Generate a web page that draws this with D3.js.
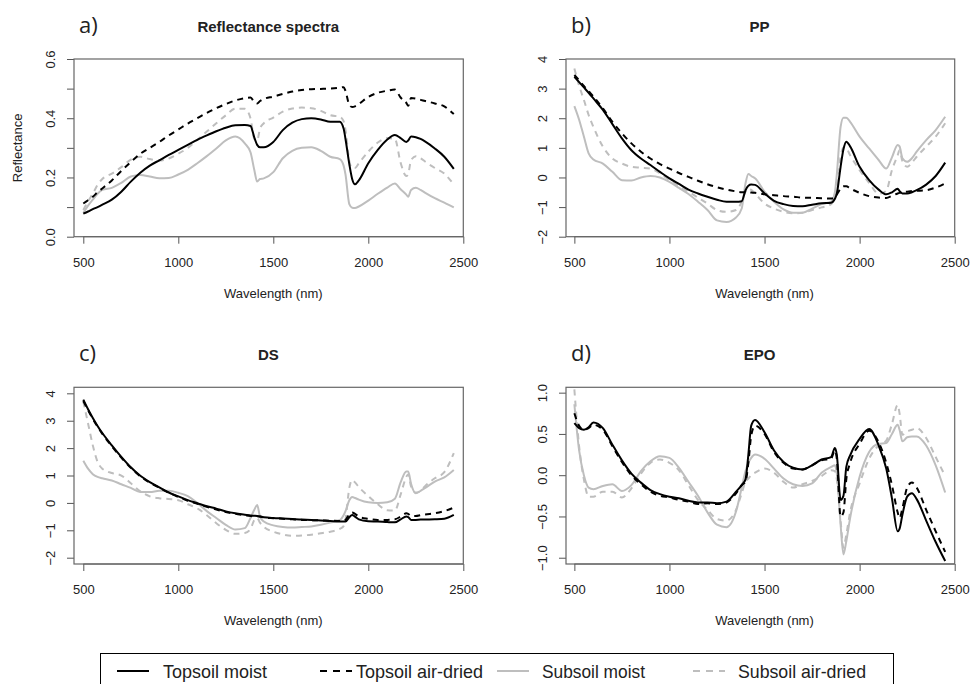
<!DOCTYPE html>
<html>
<head>
<meta charset="utf-8">
<script src="https://cdn.jsdelivr.net/npm/d3@7"></script>
<style>
body { margin: 0; background: #fff; }
svg text { font-family: Arial, "Liberation Sans", sans-serif; fill: #222; }
</style>
</head>
<body>
<svg id="chart" width="971" height="684"></svg>
<script>
// spectra data (same wavelength grid for every curve)
var wavelengths = [500,525,550,575,600, 650,700,750,800,850, 900,950,1000,1050,1100,
    1150,1200,1250,1300,1350, 1380,1400,1415,1430,1450, 1500,1550,1600,1650,1700,
    1750,1800,1850,1870,1880, 1900,1915,1930,1950,2000, 2050,2100,2140,2170,2200,
    2210,2225,2250,2275,2300, 2350,2400,2450];

// a) reflectance
var reflTopMoist = [.078,.085,.093,.100,.108, .125,.152,.186,.216,.240, .258,.276,.293,.310,.327,
    .342,.356,.368,.376,.377, .374,.335,.310,.302,.302, .320,.360,.385,.397,.400,
    .396,.388,.388,.365,.330, .245,.195,.177,.190,.248, .293,.328,.343,.333,.320,
    .325,.338,.336,.330,.321, .298,.270,.229];
var reflTopDry = [.112,.123,.135,.150,.163, .190,.222,.252,.280,.300, .320,.342,.362,.382,.400,
    .418,.434,.448,.460,.468, .470,.455,.450,.458,.465, .473,.482,.490,.495,.498,
    .499,.500,.503,.505,.492, .445,.438,.440,.448,.472, .486,.493,.497,.470,.452,
    .442,.468,.466,.462,.458, .450,.440,.414];
var reflSubMoist = [.080,.105,.125,.145,.158, .165,.182,.203,.208,.203, .197,.198,.210,.226,.248,
    .272,.298,.325,.338,.315, .285,.225,.186,.195,.197, .218,.265,.290,.300,.302,
    .290,.270,.262,.240,.210, .110,.098,.097,.102,.122, .145,.166,.180,.160,.142,
    .135,.158,.165,.158,.148, .130,.115,.099];
var reflSubDry = [.090,.120,.145,.175,.195, .213,.235,.260,.270,.262, .257,.264,.280,.300,.327,
    .355,.383,.410,.432,.432, .400,.330,.325,.365,.383, .402,.422,.433,.436,.434,
    .425,.410,.405,.390,.360, .255,.232,.232,.248,.287, .318,.333,.330,.250,.205,
    .212,.258,.272,.265,.253, .232,.213,.176];

// b) PP
var ppTopMoist = [3.40,3.22,3.04,2.86,2.67, 2.28,1.80,1.32,0.92,0.64, 0.42,0.19,-0.03,-0.22,-0.41,
    -0.54,-0.65,-0.75,-0.82,-0.82, -0.80,-0.43,-0.28,-0.24,-0.25, -0.54,-0.79,-0.90,-0.96,-0.97,
    -0.92,-0.87,-0.85,-0.72,-0.55, 0.36,0.95,1.21,1.05,0.36, -0.09,-0.41,-0.57,-0.50,-0.38,
    -0.46,-0.54,-0.54,-0.50,-0.43, -0.24,0.05,0.50];
var ppTopDry = [3.46,3.28,3.09,2.91,2.73, 2.33,1.88,1.49,1.15,0.87, 0.64,0.45,0.30,0.15,0.02,
    -0.11,-0.23,-0.33,-0.41,-0.47, -0.50,-0.50,-0.50,-0.51,-0.52, -0.57,-0.60,-0.63,-0.65,-0.68,
    -0.69,-0.70,-0.71,-0.68,-0.58, -0.38,-0.30,-0.30,-0.37,-0.52, -0.63,-0.68,-0.69,-0.62,-0.54,
    -0.52,-0.50,-0.48,-0.46,-0.45, -0.43,-0.34,-0.20];
var ppSubMoist = [2.41,1.95,1.38,0.81,0.61, 0.47,0.19,-0.09,-0.10,0.00, 0.05,0.00,-0.15,-0.35,-0.56,
    -0.82,-1.10,-1.45,-1.50,-1.35, -1.05,-0.20,0.12,0.05,-0.03, -0.48,-0.82,-1.08,-1.19,-1.19,
    -1.05,-0.90,-0.82,-0.50,0.10, 1.71,2.02,2.02,1.88,1.38, 0.98,0.59,0.30,0.68,1.10,
    1.05,0.65,0.53,0.65,0.87, 1.26,1.60,2.05];
var ppSubDry = [3.68,3.10,2.62,2.11,1.71, 1.04,0.64,0.47,0.36,0.33, 0.30,0.14,-0.09,-0.28,-0.48,
    -0.68,-0.88,-1.10,-1.16,-1.10, -0.82,-0.48,-0.37,-0.42,-0.54, -0.88,-1.05,-1.16,-1.21,-1.19,
    -1.10,-1.01,-0.90,-0.60,-0.31, 0.70,1.00,0.98,0.75,0.25, -0.18,-0.55,-0.45,0.25,0.75,
    0.92,0.55,0.36,0.50,0.70, 1.04,1.38,1.83];

// c) DS
var dsTopMoist = [3.77,3.42,3.10,2.81,2.55, 2.10,1.68,1.30,0.99,0.76, 0.57,0.38,0.24,0.10,-0.01,
    -0.12,-0.21,-0.31,-0.38,-0.43, -0.46,-0.47,-0.48,-0.50,-0.52, -0.55,-0.57,-0.59,-0.61,-0.62,
    -0.64,-0.66,-0.68,-0.68,-0.68, -0.52,-0.44,-0.50,-0.60,-0.67, -0.68,-0.70,-0.71,-0.60,-0.50,
    -0.52,-0.62,-0.62,-0.61,-0.61, -0.60,-0.58,-0.44];
var dsTopDry = [3.72,3.38,3.07,2.78,2.52, 2.07,1.65,1.28,0.97,0.74, 0.55,0.37,0.22,0.08,-0.03,
    -0.14,-0.24,-0.33,-0.40,-0.45, -0.48,-0.49,-0.49,-0.50,-0.53, -0.56,-0.58,-0.60,-0.62,-0.63,
    -0.64,-0.65,-0.66,-0.66,-0.62, -0.42,-0.35,-0.40,-0.50,-0.58, -0.62,-0.62,-0.60,-0.50,-0.38,
    -0.40,-0.48,-0.48,-0.45,-0.42, -0.38,-0.30,-0.17];
var dsSubMoist = [1.54,1.25,1.05,0.95,0.90, 0.82,0.68,0.55,0.40,0.40, 0.44,0.44,0.37,0.25,0.00,
    -0.30,-0.55,-0.80,-0.97,-0.92, -0.55,-0.25,-0.08,-0.50,-0.68, -0.82,-0.88,-0.90,-0.88,-0.86,
    -0.80,-0.72,-0.63,-0.45,-0.30, 0.10,0.22,0.18,0.12,0.02, 0.00,0.02,0.15,0.75,1.15,
    1.15,0.70,0.35,0.44,0.55, 0.78,0.93,1.20];
var dsSubDry = [3.70,2.90,2.10,1.50,1.25, 1.09,1.00,0.72,0.42,0.24, 0.17,0.14,0.10,-0.05,-0.20,
    -0.45,-0.74,-0.98,-1.13,-1.10, -0.95,-0.62,-0.55,-0.72,-0.87, -1.05,-1.15,-1.20,-1.19,-1.16,
    -1.11,-1.05,-0.95,-0.85,-0.60, 0.55,0.84,0.75,0.58,0.25, -0.05,-0.27,-0.28,0.30,0.95,
    1.05,0.60,0.38,0.44,0.62, 0.90,1.12,1.82];

// d) EPO
var epoTopMoist = [0.63,0.57,0.55,0.58,0.64, 0.57,0.37,0.18,0.02,-0.09, -0.18,-0.23,-0.26,-0.28,-0.31,
    -0.33,-0.33,-0.34,-0.32,-0.20, -0.12,-0.05,0.25,0.60,0.67, 0.52,0.30,0.16,0.09,0.07,
    0.12,0.19,0.22,0.33,0.25, -0.30,-0.25,0.10,0.24,0.44, 0.56,0.36,0.08,-0.28,-0.68,
    -0.65,-0.48,-0.26,-0.22,-0.29, -0.55,-0.81,-1.04];
var epoTopDry = [0.75,0.60,0.55,0.57,0.61, 0.55,0.35,0.16,0.00,-0.11, -0.20,-0.25,-0.27,-0.30,-0.32,
    -0.35,-0.34,-0.35,-0.33,-0.22, -0.12,-0.08,0.15,0.48,0.60, 0.50,0.28,0.15,0.08,0.07,
    0.12,0.18,0.20,0.30,0.20, -0.50,-0.45,-0.05,0.15,0.38, 0.54,0.40,0.15,-0.12,-0.45,
    -0.52,-0.40,-0.15,-0.09,-0.15, -0.42,-0.68,-0.93];
var epoSubMoist = [0.86,0.30,0.00,-0.15,-0.17, -0.13,-0.11,-0.19,-0.12,0.05, 0.17,0.23,0.21,0.09,-0.08,
    -0.25,-0.45,-0.60,-0.63,-0.44, -0.15,0.05,0.15,0.21,0.25, 0.20,0.08,-0.04,-0.11,-0.13,
    -0.10,0.03,0.10,0.12,0.02, -0.60,-0.96,-0.80,-0.52,-0.02, 0.28,0.38,0.39,0.50,0.61,
    0.55,0.41,0.46,0.47,0.47, 0.36,0.12,-0.21];
var epoSubDry = [1.04,0.35,-0.05,-0.26,-0.26, -0.20,-0.20,-0.27,-0.16,0.02, 0.15,0.19,0.15,0.06,-0.12,
    -0.30,-0.42,-0.53,-0.55,-0.42, -0.22,-0.08,-0.04,0.00,0.03, 0.08,0.03,-0.08,-0.15,-0.11,
    -0.07,-0.01,0.06,0.05,-0.05, -0.55,-0.88,-0.72,-0.45,-0.10, 0.20,0.36,0.42,0.62,0.85,
    0.75,0.49,0.53,0.55,0.57, 0.45,0.22,-0.01];

var seriesNames = ["Topsoil moist", "Topsoil air-dried", "Subsoil moist", "Subsoil air-dried"];
var xTicks = [500, 1000, 1500, 2000, 2500];

// look of each series, same order as seriesNames
var styles = [
    {color: "#000", dash: null},
    {color: "#000", dash: "6,5"},
    {color: "#bebebe", dash: null},
    {color: "#bebebe", dash: "6,5"}
];

var svg = d3.select("#chart");
svg.append("rect").attr("width", 971).attr("height", 684).attr("fill", "#fff");

var panels = [
    {tag: "a)", title: "Reflectance spectra", left: 74, right: 463.3, top: 59, bottom: 236.7,
        xd: [451, 2500], yd: [0, 0.6], yticks: [0, .1, .2, .3, .4, .5, .6],
        ylabels: [0, .2, .4, .6], fmt: d3.format(".1f"), ylab: "Reflectance",
        curves: [reflTopMoist, reflTopDry, reflSubMoist, reflSubDry]},
    {tag: "b)", title: "PP", left: 566, right: 954.7, top: 59, bottom: 236.7,
        xd: [456, 2500], yd: [-2, 4], yticks: [-2, -1, 0, 1, 2, 3, 4],
        ylabels: [-2, -1, 0, 1, 2, 3, 4], fmt: d3.format("d"), ylab: "",
        curves: [ppTopMoist, ppTopDry, ppSubMoist, ppSubDry]},
    {tag: "c)", title: "DS", left: 74, right: 463.3, top: 387.3, bottom: 564,
        xd: [451, 2500], yd: [-2.23, 4.22], yticks: [-2, -1, 0, 1, 2, 3, 4],
        ylabels: [-2, -1, 0, 1, 2, 3, 4], fmt: d3.format("d"), ylab: "",
        curves: [dsTopMoist, dsTopDry, dsSubMoist, dsSubDry]},
    {tag: "d)", title: "EPO", left: 566, right: 954.7, top: 387.3, bottom: 564,
        xd: [456, 2500], yd: [-1.076, 1.065], yticks: [-1, -0.5, 0, 0.5, 1],
        ylabels: [-1, -0.5, 0, 0.5, 1], fmt: d3.format(".1f"), ylab: "",
        curves: [epoTopMoist, epoTopDry, epoSubMoist, epoSubDry]}
];

function drawPanel(p, i) {
    var x = d3.scaleLinear().domain(p.xd).range([p.left, p.right]);
    var y = d3.scaleLinear().domain(p.yd).range([p.bottom, p.top]);
    var g = svg.append("g");

    // clip so nothing pokes out of the box
    g.append("clipPath").attr("id", "clip" + i)
        .append("rect").attr("x", p.left).attr("y", p.top)
        .attr("width", p.right - p.left).attr("height", p.bottom - p.top);

    var line = d3.line()
        .x(function (d) { return x(d[0]); })
        .y(function (d) { return y(d[1]); })
        .curve(d3.curveMonotoneX);

    // subsoil (grey) first so the black ones sit on top
    [2, 3, 0, 1].forEach(function (k) {
        var pts = wavelengths.map(function (w, j) { return [w, p.curves[k][j]]; });
        g.append("path")
            .attr("d", line(pts))
            .attr("clip-path", "url(#clip" + i + ")")
            .attr("fill", "none")
            .attr("stroke", styles[k].color)
            .attr("stroke-width", 2)
            .attr("stroke-dasharray", styles[k].dash);
    });

    // x axis
    var xa = g.append("g").attr("transform", "translate(0," + p.bottom + ")")
        .call(d3.axisBottom(x).tickValues(xTicks).tickSize(7).tickSizeOuter(0).tickFormat(d3.format("d")));
    xa.select(".domain").remove();
    xa.append("line").attr("x1", x(500)).attr("x2", x(2500)).attr("stroke", "#555");
    xa.selectAll(".tick line").attr("stroke", "#555");
    xa.selectAll(".tick text").attr("y", 30).attr("dy", 0)
        .style("font-size", "13px").attr("fill", "#222");

    // y axis, labels turned sideways like base R
    var ya = g.append("g").attr("transform", "translate(" + p.left + ",0)")
        .call(d3.axisLeft(y).tickValues(p.yticks).tickSize(7).tickSizeOuter(0).tickFormat(p.fmt));
    ya.select(".domain").remove();
    ya.selectAll(".tick line").attr("stroke", "#555");
    ya.selectAll(".tick text")
        .text(function (d) {
            var show = p.ylabels.some(function (v) { return Math.abs(v - d) < 1e-9; });
            return show ? p.fmt(d) : "";
        })
        .attr("transform", "rotate(-90)")
        .attr("x", 0).attr("y", -19).attr("dy", 0)
        .attr("text-anchor", "middle")
        .style("font-size", "13px").attr("fill", "#222");

    // box
    g.append("rect").attr("x", p.left).attr("y", p.top)
        .attr("width", p.right - p.left).attr("height", p.bottom - p.top)
        .attr("fill", "none").attr("stroke", "#666").attr("stroke-width", 1.2);

    var mid = (x(500) + x(2500)) / 2;
    g.append("text").attr("x", mid - 5).attr("y", p.top - 27)
        .attr("text-anchor", "middle").style("font-size", "15px").style("font-weight", "bold")
        .attr("fill", "#000").text(p.title);
    g.append("text").attr("x", p.left + 5).attr("y", p.top - 26)
        .style("font-family", "'Open Sans', 'Noto Sans', sans-serif").style("font-size", "22px")
        .text(p.tag);
    g.append("text").attr("x", mid).attr("y", p.bottom + 61)
        .attr("text-anchor", "middle").style("font-size", "13px").text("Wavelength (nm)");
    if (p.ylab) {
        g.append("text").attr("transform", "translate(22," + ((p.top + p.bottom) / 2) + ") rotate(-90)")
            .attr("text-anchor", "middle").style("font-size", "13px").text(p.ylab);
    }
}

panels.forEach(drawPanel);

// legend along the bottom, runs off the page like the original
var legend = svg.append("g");
legend.append("rect").attr("x", 100.5).attr("y", 653.5).attr("width", 793).attr("height", 45)
    .attr("fill", "#fff").attr("stroke", "#000").attr("stroke-width", 1);
var legendPos = [{lx: 117, tx: 163, tw: 104}, {lx: 320, tx: 356, tw: 127},
    {lx: 497, tx: 542, tw: 103}, {lx: 693, tx: 738, tw: 128}];
seriesNames.forEach(function (name, k) {
    var lp = legendPos[k];
    legend.append("line").attr("x1", lp.lx).attr("x2", lp.lx + 32)
        .attr("y1", 671).attr("y2", 671)
        .attr("stroke", styles[k].color).attr("stroke-width", 2)
        .attr("stroke-dasharray", styles[k].dash ? "7,6" : null);
    legend.append("text").attr("x", lp.tx).attr("y", 678)
        .attr("textLength", lp.tw).attr("lengthAdjust", "spacingAndGlyphs")
        .style("font-family", "'Liberation Sans Narrow', 'Arial Narrow', Arial, sans-serif")
        .style("font-size", "19px").attr("fill", "#111").text(name);
});
</script>
</body>
</html>
